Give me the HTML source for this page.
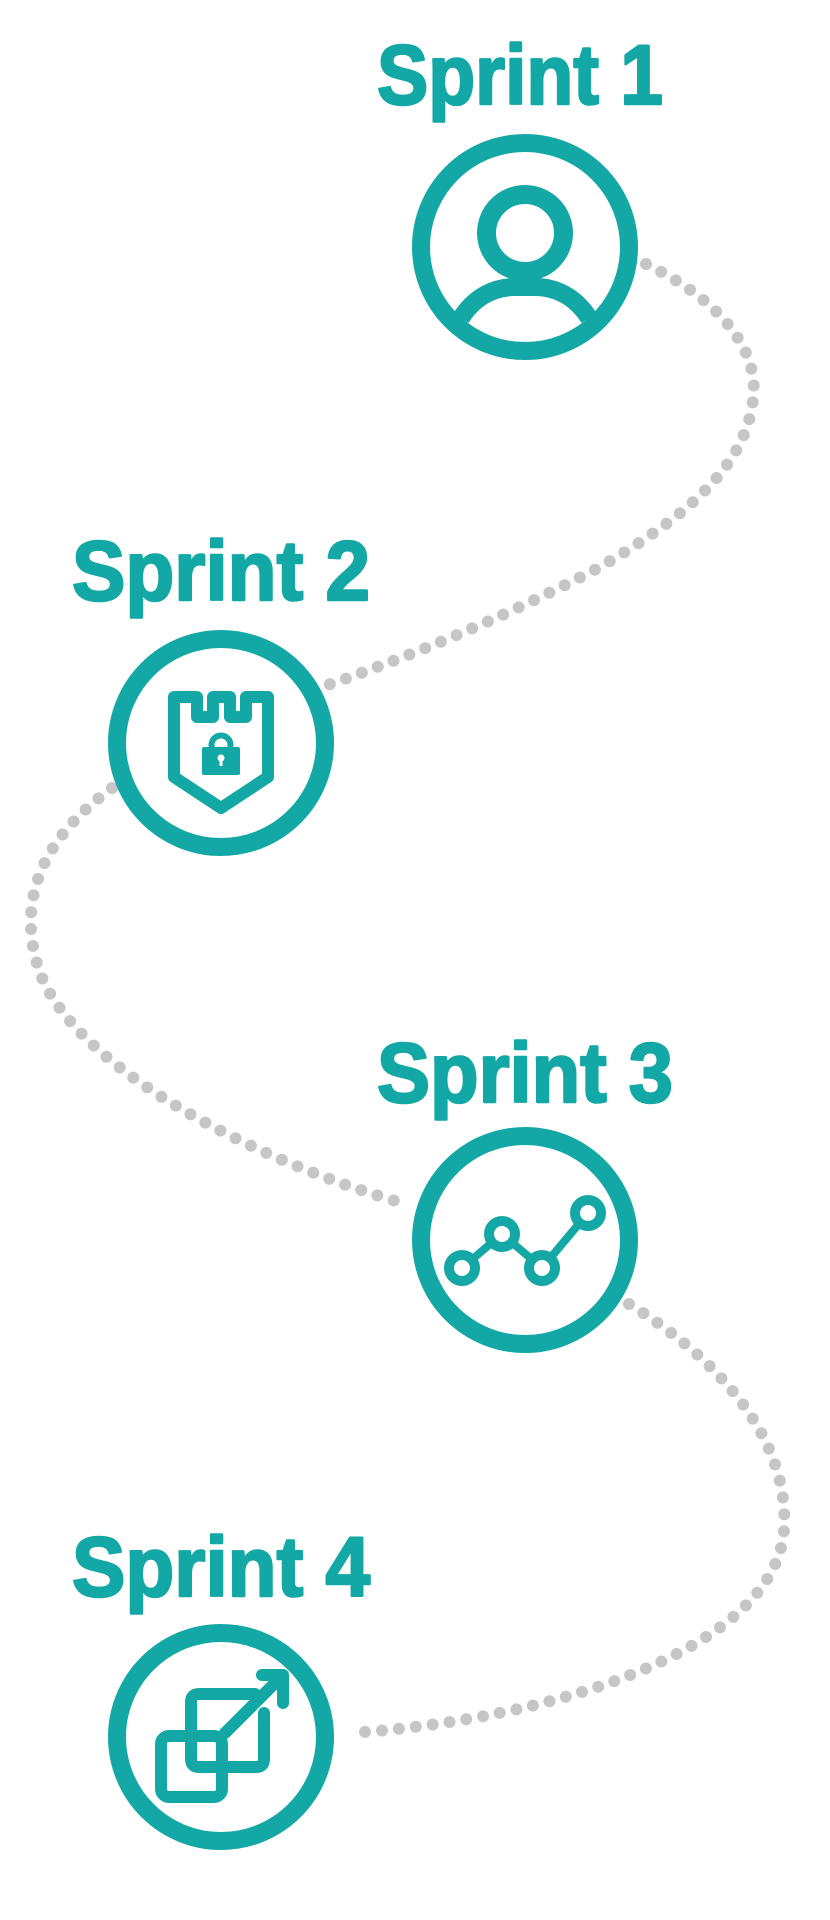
<!DOCTYPE html>
<html><head><meta charset="utf-8"><style>
html,body{margin:0;padding:0;background:#fff;}
svg{display:block;}
text{font-family:"Liberation Sans",sans-serif;font-weight:bold;fill:#13a8a6;stroke:#13a8a6;stroke-width:2.5;stroke-linejoin:round;}
</style></head><body>
<svg width="830" height="1920" viewBox="0 0 830 1920" xmlns="http://www.w3.org/2000/svg">
<g fill="none" stroke="#c6c6c9" stroke-width="12" stroke-linecap="round" stroke-dasharray="0 17">
<path d="M646,264 C720,300 760,350 753,400 C745,470 680,520 600,567 C500,620 400,660 322,687"/>
<path d="M112,788 C40,840 20,900 36,960 C60,1060 250,1160 406,1204"/>
<path d="M629,1304 C720,1360 790,1440 784,1530 C775,1650 550,1720 350,1733"/>
</g>
<text x="377" y="104" font-size="84" textLength="286" lengthAdjust="spacingAndGlyphs">Sprint 1</text>
<text x="72" y="600" font-size="84" textLength="298" lengthAdjust="spacingAndGlyphs">Sprint 2</text>
<text x="377" y="1102" font-size="84" textLength="296" lengthAdjust="spacingAndGlyphs">Sprint 3</text>
<text x="72" y="1596" font-size="84" textLength="298" lengthAdjust="spacingAndGlyphs">Sprint 4</text>
<g fill="none" stroke="#13a8a6">
<circle cx="525" cy="247" r="104" stroke-width="18"/>
<circle cx="221" cy="743" r="104" stroke-width="18"/>
<circle cx="525" cy="1240" r="104" stroke-width="18"/>
<circle cx="221" cy="1737" r="104" stroke-width="18"/>
<circle cx="525" cy="233" r="38.5" stroke-width="19"/>
<path d="M461,318 C475,296 495,287 515,287 L535,287 C555,287 575,296 589,318" stroke-width="18"/>
<path d="M174,777 L174,697 L197,697 L197,717 L213,717 L213,697 L230,697 L230,717 L246,717 L246,697 L268,697 L268,777 L221,808 Z" stroke-width="12" stroke-linejoin="round"/>
<circle cx="221" cy="745" r="9.5" stroke-width="6"/>
<polyline points="462,1268 502,1234 542,1268 588,1213" stroke-width="8"/>
<circle cx="462" cy="1268" r="13" stroke-width="10" fill="#fff"/>
<circle cx="502" cy="1234" r="13" stroke-width="10" fill="#fff"/>
<circle cx="542" cy="1268" r="13" stroke-width="10" fill="#fff"/>
<circle cx="588" cy="1213" r="13" stroke-width="10" fill="#fff"/>
<path d="M255,1694 L199,1694 Q191,1694 191,1702 L191,1759 Q191,1767 199,1767 L256,1767 Q264,1767 264,1759 L264,1713" stroke-width="12" stroke-linecap="round"/>
<rect x="161" y="1736" width="61" height="61" rx="8" stroke-width="12"/>
<path d="M225,1733 L281,1677 M262,1675 L283,1675 L283,1703" stroke-width="12" stroke-linecap="round" stroke-linejoin="round"/>
</g>
<rect x="202" y="747" width="38" height="28" rx="2" fill="#13a8a6"/>
<circle cx="221" cy="758" r="3.5" fill="#fff"/>
<rect x="219.5" y="758" width="3" height="8" fill="#fff"/>
</svg>
</body></html>
